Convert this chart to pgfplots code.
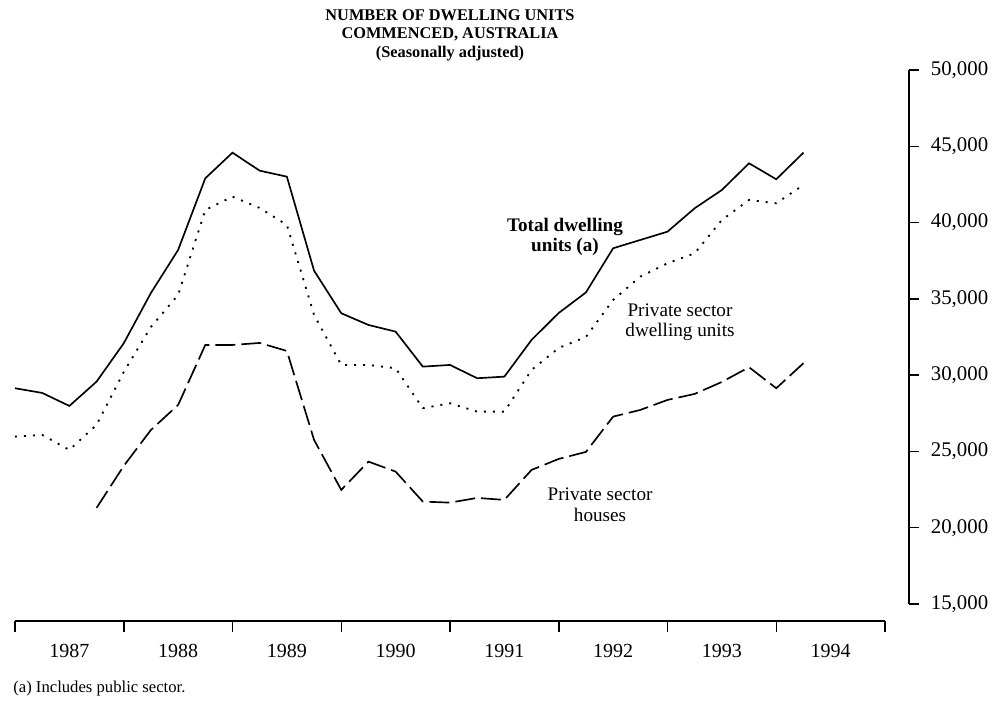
\documentclass[border=0pt]{standalone}
\usepackage{fontspec}
\setmainfont{Liberation Serif}
\usepackage{pgfplots}
\pgfplotsset{compat=1.18}
\usepackage{pgfplotstable}

\pgfplotstableread{
q total private
0 29142 25970
1 28834 26082
2 27982 25099
3 29574 26737
4 32090 30210
5 35387 33159
6 38205 35256
7 42903 40826
8 44581 41697
9 43401 40957
10 43008 39843
11 36848 33945
12 34056 30669
13 33290 30669
14 32851 30452
15 30557 27831
16 30669 28159
17 29797 27608
18 29902 27608
19 32307 30341
20 34076 31783
21 35420 32503
22 38316 34928
23 38860 36455
24 39404 37333
25 40937 37988
26 42136 40170
27 43886 41481
28 42838 41265
29 44581 42464
}\dwell

\pgfplotstableread{
q houses
3 21298
4 24050
5 26409
6 28047
7 31979
8 31979
9 32110
10 31586
11 25754
12 22477
13 24332
14 23677
15 21711
16 21645
17 21953
18 21822
19 23788
20 24509
21 24968
22 27281
23 27720
24 28375
25 28768
26 29555
27 30518
28 29142
29 30780
}\houses

\begin{document}
\begin{tikzpicture}
\useasboundingbox (-9pt,-63pt) rectangle (588.6pt,362.4pt);

% data axis with right-hand y axis
\begin{axis}[
  at={(0pt,0pt)}, anchor=south west,
  scale only axis, width=536.4pt, height=320.4pt,
  xmin=0, xmax=32.883, ymin=15000, ymax=50000,
  axis x line=none, axis y line=right,
  y axis line style={-, line width=0.9pt},
  ytick={15000,20000,...,50000},
  tick align=outside, major tick length=6pt,
  major tick style={line width=0.9pt, black},
  scaled y ticks=false,
  /pgf/number format/.cd, fixed, precision=0, 1000 sep={,}, assume math mode=true,
  /pgfplots/.cd,
  yticklabel style={font=\fontsize{12.5}{14}\selectfont, anchor=west, xshift=3.6pt},
  clip=false,
]
\addplot[black, line width=1.0pt] table[x=q, y=total] {\dwell};
\addplot[black, line width=1.1pt, dash pattern=on 1.2pt off 4.2pt] table[x=q, y=private] {\dwell};
\addplot[black, line width=1.0pt, dash pattern=on 12pt off 3.6pt] table[x=q, y=houses] {\houses};

\node[font=\bfseries\fontsize{11.5}{12}\selectfont, align=center] at (axis cs:20.23,39056) {Total dwelling\\units (a)};
\node[font=\fontsize{11.5}{12}\selectfont, align=center] at (axis cs:24.46,33486) {Private sector\\dwelling units};
\node[font=\fontsize{11.5}{12.5}\selectfont, align=center] at (axis cs:21.52,21494) {Private sector\\houses};
\end{axis}

% bottom x axis
\begin{axis}[
  at={(0pt,-10.2pt)}, anchor=south west,
  scale only axis, width=522pt, height=20pt,
  xmin=0, xmax=32, ymin=0, ymax=1,
  axis x line=bottom, axis y line=none,
  x axis line style={-, line width=0.9pt},
  xtick={2,6,...,30},
  xticklabels={1987,1988,1989,1990,1991,1992,1993,1994},
  minor xtick={0,4,...,32},
  tick align=outside, major tick length=0pt, minor tick length=6.6pt,
  minor tick style={line width=0.9pt, black},
  xticklabel style={font=\fontsize{12}{14}\selectfont, yshift=-10.2pt},
]
\end{axis}

\node[font=\bfseries\fontsize{9.8}{11.1}\selectfont, align=center] at (261pt,341.2pt)
  {NUMBER OF DWELLING UNITS\\COMMENCED, AUSTRALIA\\(Seasonally adjusted)};
\node[font=\fontsize{10}{12}\selectfont, anchor=west, inner sep=0pt] at (-1.2pt,-50.4pt) {(a) Includes public sector.};
\end{tikzpicture}
\end{document}
